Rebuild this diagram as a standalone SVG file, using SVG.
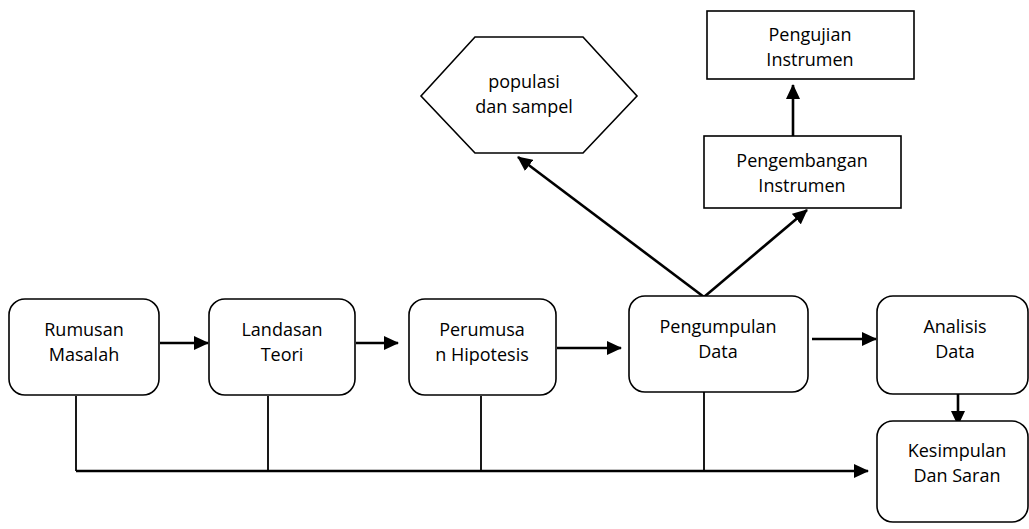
<svg xmlns="http://www.w3.org/2000/svg" width="1029" height="529" viewBox="0 0 1029 529">
<defs>
<marker id="ah" viewBox="0 0 15 14" refX="14" refY="7" markerWidth="15" markerHeight="14" markerUnits="userSpaceOnUse" orient="auto"><path d="M0,0 L15,7 L0,14 z" fill="#000"/></marker>
<style>
.box{fill:#fff;stroke:#000;stroke-width:1.6}
.t{font-family:"Open Sans","Noto Sans",sans-serif;font-size:18px;fill:#000;text-anchor:middle}
.c{fill:none;stroke:#000;stroke-width:2.6}
.l{fill:none;stroke:#000;stroke-width:1.8}
</style>
</defs>
<rect width="1029" height="529" fill="#fff"/>
<g id="connectors">
<path class="l" d="M76,396 V471 M268,396 V471 M481,396 V471 M704,392 V471"/>
<path class="c" d="M76,471 H868" marker-end="url(#ah)"/>
<path class="c" d="M160,343 H208" marker-end="url(#ah)"/>
<path class="c" d="M356,343 H398" marker-end="url(#ah)"/>
<path class="c" d="M557,348 H621" marker-end="url(#ah)"/>
<path class="c" d="M812,339 H876" marker-end="url(#ah)"/>
<path class="c" d="M958,394 V425" marker-end="url(#ah)"/>
<path class="c" d="M704,297 L518,157" marker-end="url(#ah)"/>
<path class="c" d="M704,297 L807,210" marker-end="url(#ah)"/>
<path class="c" d="M793,136 V85" marker-end="url(#ah)"/>
</g>
<g id="rumusan">
<rect class="box" x="9" y="299" width="150" height="96" rx="16"/>
<text class="t" x="84" y="336">Rumusan</text>
<text class="t" x="84" y="361">Masalah</text>
</g>
<g id="landasan">
<rect class="box" x="209" y="299" width="146" height="96" rx="16"/>
<text class="t" x="282" y="336">Landasan</text>
<text class="t" x="282" y="361">Teori</text>
</g>
<g id="perumusan">
<rect class="box" x="409" y="299" width="147" height="96" rx="16"/>
<text class="t" x="482" y="336">Perumusa</text>
<text class="t" x="482" y="361">n Hipotesis</text>
</g>
<g id="pengumpulan">
<rect class="box" x="629" y="296" width="179" height="96" rx="16"/>
<text class="t" x="718" y="333">Pengumpulan</text>
<text class="t" x="718" y="358">Data</text>
</g>
<g id="analisis">
<rect class="box" x="877" y="296" width="151" height="98" rx="16"/>
<text class="t" x="955" y="333">Analisis</text>
<text class="t" x="955" y="358">Data</text>
</g>
<g id="kesimpulan">
<rect class="box" x="877" y="421" width="151" height="101" rx="16"/>
<text class="t" x="957" y="457">Kesimpulan</text>
<text class="t" x="957" y="482">Dan Saran</text>
</g>
<g id="populasi">
<polygon class="box" points="421,96 475,37 583,37 637,96 583,153 475,153"/>
<text class="t" x="524" y="88">populasi</text>
<text class="t" x="524" y="113">dan sampel</text>
</g>
<g id="pengembangan">
<rect class="box" x="704" y="136" width="197" height="72"/>
<text class="t" x="802" y="167">Pengembangan</text>
<text class="t" x="802" y="192">Instrumen</text>
</g>
<g id="pengujian">
<rect class="box" x="707" y="11" width="207" height="68"/>
<text class="t" x="810" y="41">Pengujian</text>
<text class="t" x="810" y="66">Instrumen</text>
</g>
</svg>
